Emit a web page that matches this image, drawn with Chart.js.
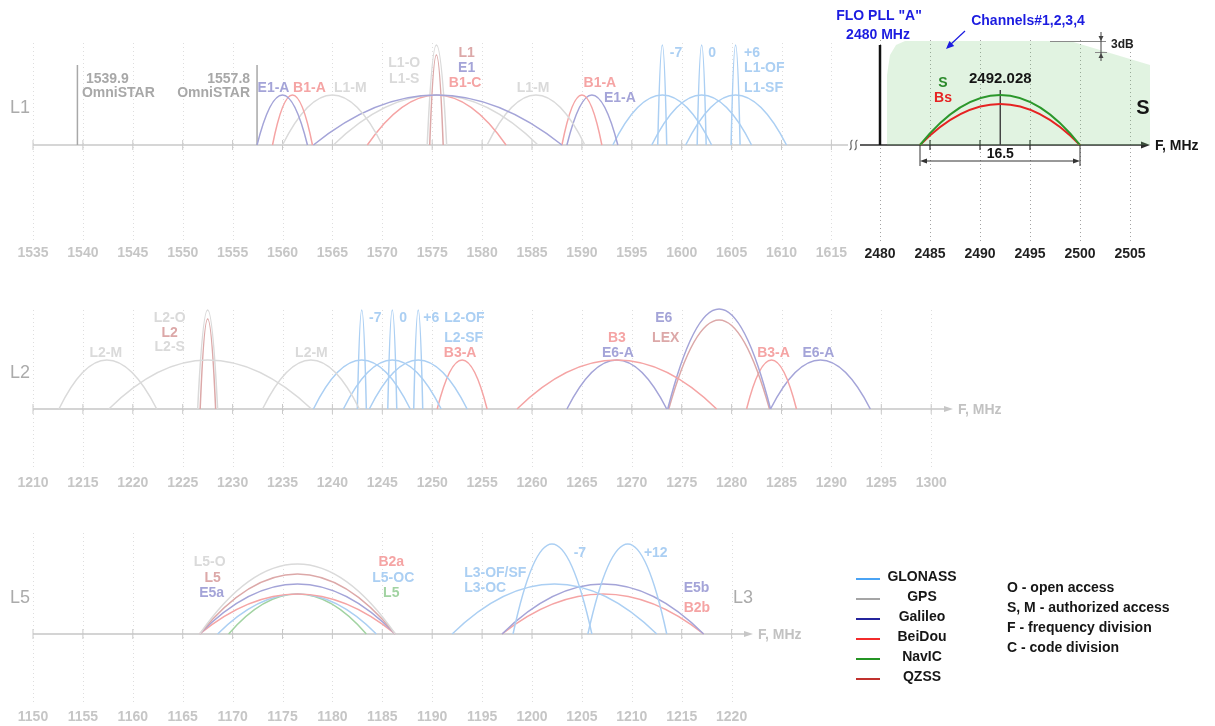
<!DOCTYPE html>
<html>
<head>
<meta charset="utf-8">
<title>GNSS frequency bands</title>
<script src="https://cdn.jsdelivr.net/npm/chart.js@4.4.1/dist/chart.umd.min.js"></script>
<style>
  html, body { margin: 0; padding: 0; background: #fff; }
  canvas { display: block; }
</style>
</head>
<body>
<canvas id="bands" width="1215" height="726"></canvas>
<script>
// tick labels of each frequency axis (MHz)
const l1Ticks = [1535, 1540, 1545, 1550, 1555, 1560, 1565, 1570, 1575, 1580, 1585, 1590, 1595, 1600, 1605, 1610, 1615];
const sTicks = [2480, 2485, 2490, 2495, 2500, 2505];
const l2Ticks = [1210, 1215, 1220, 1225, 1230, 1235, 1240, 1245, 1250, 1255, 1260, 1265, 1270, 1275, 1280, 1285, 1290, 1295, 1300];
const l5Ticks = [1150, 1155, 1160, 1165, 1170, 1175, 1180, 1185, 1190, 1195, 1200, 1205, 1210, 1215, 1220];

const systems = ["GLONASS", "GPS", "Galileo", "BeiDou", "NavIC", "QZSS"];

// spectrum lobes: [system, start MHz, peak MHz, end MHz, relative level]
const l1Lobes = [
  ["Galileo", 1557.45, 1560.0, 1562.5, 50],
  ["BeiDou", 1559.0, 1561.0, 1563.0, 50],
  ["GPS", 1560.0, 1565.0, 1570.0, 50],
  ["Galileo", 1563.1, 1575.42, 1588.0, 50],
  ["GPS", 1565.1, 1575.42, 1585.6, 50],
  ["BeiDou", 1568.5, 1575.42, 1582.4, 50],
  ["GPS", 1574.5, 1575.42, 1576.45, 100],
  ["QZSS", 1574.75, 1575.42, 1576.1, 90],
  ["GPS", 1580.5, 1585.4, 1590.3, 50],
  ["BeiDou", 1588.0, 1590.0, 1592.0, 50],
  ["Galileo", 1588.5, 1591.0, 1593.6, 50],
  ["GLONASS", 1593.1, 1598.06, 1603.0, 50],
  ["GLONASS", 1597.0, 1602.0, 1607.0, 50],
  ["GLONASS", 1600.4, 1605.4, 1610.5, 50],
  ["GLONASS", 1597.6, 1598.06, 1598.5, 100],
  ["GLONASS", 1601.55, 1602.0, 1602.45, 100],
  ["GLONASS", 1604.95, 1605.4, 1605.85, 100],
];

const l2Lobes = [
  ["GPS", 1212.6, 1217.4, 1222.4, 49],
  ["GPS", 1217.6, 1227.5, 1237.9, 49],
  ["GPS", 1233.0, 1237.85, 1242.7, 49],
  ["GPS", 1226.5, 1227.5, 1228.5, 99],
  ["QZSS", 1226.75, 1227.5, 1228.3, 90],
  ["GLONASS", 1238.1, 1242.94, 1247.8, 49],
  ["GLONASS", 1241.1, 1246.0, 1250.9, 49],
  ["GLONASS", 1243.7, 1248.6, 1253.5, 49],
  ["GLONASS", 1242.5, 1242.94, 1243.4, 99],
  ["GLONASS", 1245.55, 1246.0, 1246.45, 99],
  ["GLONASS", 1248.15, 1248.6, 1249.05, 99],
  ["BeiDou", 1250.5, 1253.0, 1255.5, 49],
  ["BeiDou", 1258.5, 1268.5, 1278.5, 49],
  ["Galileo", 1263.5, 1268.5, 1273.5, 49],
  ["Galileo", 1273.6, 1278.75, 1283.9, 100],
  ["QZSS", 1273.7, 1278.75, 1283.8, 89],
  ["BeiDou", 1281.5, 1284.0, 1286.5, 49],
  ["Galileo", 1283.9, 1288.9, 1293.9, 49],
];

const l5Lobes = [
  ["GPS", 1166.7, 1176.5, 1186.3, 70],
  ["QZSS", 1166.7, 1176.5, 1186.3, 60],
  ["Galileo", 1166.7, 1176.5, 1186.3, 50],
  ["BeiDou", 1166.7, 1176.5, 1186.3, 40],
  ["GLONASS", 1168.5, 1176.5, 1184.4, 40],
  ["NavIC", 1169.6, 1176.5, 1183.4, 40],
  ["GLONASS", 1192.0, 1202.25, 1212.5, 50],
  ["GLONASS", 1198.1, 1202.0, 1206.0, 90],
  ["GLONASS", 1205.6, 1209.6, 1213.5, 90],
  ["Galileo", 1197.0, 1207.14, 1217.2, 50],
  ["BeiDou", 1197.0, 1207.14, 1217.2, 40],
];

// OmniSTAR carriers as drawn, and their marker level
const omniStarFreq = [1539.45, 1557.45];
const omniStarLevel = 80;

// S band inset
const sLobe = ["NavIC", 2484, 2492.028, 2500, 50];
const bsLobe = ["BeiDou", 2484, 2492.028, 2500, 41];
const sBandFreq = [2480.65, 2480.7, 2481.0, 2481.6, 2482.5, 2499.0, 2507.0, 2507.0];
const sBandLevel = [0, 70, 90, 100, 104, 104, 80, 0];
const floFreq = 2480;
const floLevel = 100;
const centerFreq = 2492.028;
const centerLevel = 55;

// signal labels: [text, system, MHz, level, align]
const l1Labels = [
  ["1539.9", "Omni", 1540.3, 66, "left"],
  ["OmniSTAR", "Omni", 1539.9, 52, "left"],
  ["1557.8", "Omni", 1556.75, 66, "right"],
  ["OmniSTAR", "Omni", 1556.75, 52, "right"],
  ["E1-A", "Galileo", 1559.1, 57, "center"],
  ["B1-A", "BeiDou", 1562.7, 57, "center"],
  ["L1-M", "GPS", 1566.8, 57, "center"],
  ["L1-O", "GPS", 1572.2, 82, "center"],
  ["L1-S", "GPS", 1572.2, 66, "center"],
  ["L1", "QZSS", 1578.45, 92, "center"],
  ["E1", "Galileo", 1578.45, 77, "center"],
  ["B1-C", "BeiDou", 1578.3, 62, "center"],
  ["L1-M", "GPS", 1585.1, 57, "center"],
  ["B1-A", "BeiDou", 1591.8, 62, "center"],
  ["E1-A", "Galileo", 1593.8, 47, "center"],
  ["-7", "GLONASS", 1598.8, 92, "left"],
  ["0", "GLONASS", 1602.65, 92, "left"],
  ["+6", "GLONASS", 1606.25, 92, "left"],
  ["L1-OF", "GLONASS", 1606.25, 77, "left"],
  ["L1-SF", "GLONASS", 1606.25, 57, "left"],
];

const l2Labels = [
  ["L2-M", "GPS", 1217.3, 56, "center"],
  ["L2-O", "GPS", 1223.7, 91, "center"],
  ["L2", "QZSS", 1223.7, 76, "center"],
  ["L2-S", "GPS", 1223.7, 62, "center"],
  ["L2-M", "GPS", 1237.9, 56, "center"],
  ["-7", "GLONASS", 1244.3, 91, "center"],
  ["0", "GLONASS", 1247.1, 91, "center"],
  ["+6", "GLONASS", 1249.9, 91, "center"],
  ["L2-OF", "GLONASS", 1251.2, 91, "left"],
  ["L2-SF", "GLONASS", 1251.2, 71, "left"],
  ["B3-A", "BeiDou", 1252.8, 56, "center"],
  ["B3", "BeiDou", 1268.5, 71, "center"],
  ["E6-A", "Galileo", 1268.6, 56, "center"],
  ["E6", "Galileo", 1273.2, 91, "center"],
  ["LEX", "QZSS", 1273.4, 71, "center"],
  ["B3-A", "BeiDou", 1284.2, 56, "center"],
  ["E6-A", "Galileo", 1288.7, 56, "center"],
];

const l5Labels = [
  ["L5-O", "GPS", 1167.7, 72, "center"],
  ["L5", "QZSS", 1168.0, 56, "center"],
  ["E5a", "Galileo", 1167.9, 41, "center"],
  ["B2a", "BeiDou", 1185.9, 72, "center"],
  ["L5-OC", "GLONASS", 1186.1, 56, "center"],
  ["L5", "NavIC", 1185.9, 41, "center"],
  ["-7", "GLONASS", 1204.8, 81, "center"],
  ["+12", "GLONASS", 1212.4, 81, "center"],
  ["L3-OF/SF", "GLONASS", 1193.2, 61, "left"],
  ["L3-OC", "GLONASS", 1193.2, 46, "left"],
  ["E5b", "Galileo", 1215.2, 46, "left"],
  ["B2b", "BeiDou", 1215.2, 26, "left"],
];

const legendNotes = ["O - open access", "S, M - authorized access", "F - frequency division", "C - code division"];

// ---- styles and geometry ----
const W = 1215, H = 726;
const FONT = '"Liberation Sans", Arial, Helvetica, sans-serif';

const strong = { GLONASS: "#4aa3f4", GPS: "#a5a5a5", Galileo: "#24249c", BeiDou: "#f22b2b", NavIC: "#249424", QZSS: "#c0312e" };
const faded = { GLONASS: "#abcff3", GPS: "#dadada", Galileo: "#a4a4d8", BeiDou: "#f5a4a4", NavIC: "#a2d3a2", QZSS: "#dca8a8", Omni: "#a8a8a8" };

// pixel placement of each panel: frequency f0 sits at px0, ppm pixels per MHz, axis line at axisY
const panels = {
  L1: { f0: 1535, px0: 33, ppm: 9.98, axisY: 145, gridTop: 102, gridBottom: -95, grid: "#dedede", tickY: 253, tickColor: "#c6c6c6" },
  S: { f0: 2480, px0: 880, ppm: 10, axisY: 145, gridTop: 105, gridBottom: -97, grid: "#a2a2a2", tickY: 254, tickColor: "#1f1f1f" },
  L2: { f0: 1210, px0: 33, ppm: 9.98, axisY: 409, gridTop: 99, gridBottom: -61, grid: "#dedede", tickY: 483, tickColor: "#c6c6c6" },
  L5: { f0: 1150, px0: 33, ppm: 9.98, axisY: 634, gridTop: 101, gridBottom: -69, grid: "#dedede", tickY: 717, tickColor: "#c6c6c6" },
};

const scales = {};
Object.entries(panels).forEach(([key, p]) => {
  scales["x" + key] = {
    type: "linear", axis: "x", position: "bottom", display: false,
    min: p.f0 - p.px0 / p.ppm, max: p.f0 + (W - p.px0) / p.ppm,
  };
  scales["y" + key] = {
    type: "linear", axis: "y", position: "left", display: false,
    min: p.axisY - H, max: p.axisY,
  };
});

function lobeSet(panel, lobe, color, width) {
  const [sys, a, peak, b, level] = lobe;
  return {
    label: sys, xAxisID: "x" + panel, yAxisID: "y" + panel,
    data: [{ x: a, y: 0 }, { x: peak, y: level }, { x: b, y: 0 }],
    borderColor: color, borderWidth: width, pointRadius: 0, tension: 0.4, fill: false, lobe: true,
  };
}

function lineSet(panel, freq, level, color, width) {
  return {
    xAxisID: "x" + panel, yAxisID: "y" + panel,
    data: [{ x: freq, y: 0 }, { x: freq, y: level }],
    borderColor: color, borderWidth: width, pointRadius: 0, tension: 0, fill: false,
  };
}

const datasets = [];
l1Lobes.forEach((l) => datasets.push(lobeSet("L1", l, faded[l[0]], 1.5)));
l2Lobes.forEach((l) => datasets.push(lobeSet("L2", l, faded[l[0]], 1.5)));
l5Lobes.forEach((l) => datasets.push(lobeSet("L5", l, faded[l[0]], 1.5)));
omniStarFreq.forEach((f) => datasets.push(lineSet("L1", f, omniStarLevel, faded.Omni, 1.5)));
datasets.push(lobeSet("S", sLobe.slice(0), "#2b972b", 2));
datasets.push(lobeSet("S", bsLobe.slice(0), "#e62222", 2));
datasets.push(lineSet("S", floFreq, floLevel, "#111", 2.5));
datasets.push(lineSet("S", centerFreq, centerLevel, "#444", 1.5));
datasets.push({
  xAxisID: "xS", yAxisID: "yS", order: 10,
  data: sBandFreq.map((f, i) => ({ x: f, y: sBandLevel[i] })),
  borderWidth: 0, pointRadius: 0, tension: 0,
  fill: "origin", backgroundColor: "rgba(120, 200, 120, 0.22)",
});

// ---- drawing helpers ----
function text(ctx, str, x, y, font, color, align) {
  ctx.font = font;
  ctx.fillStyle = color;
  ctx.textAlign = align || "center";
  ctx.textBaseline = "middle";
  ctx.fillText(str, x, y);
}

function seg(ctx, x0, y0, x1, y1, color, width) {
  ctx.strokeStyle = color;
  ctx.lineWidth = width;
  ctx.beginPath();
  ctx.moveTo(x0, y0);
  ctx.lineTo(x1, y1);
  ctx.stroke();
}

function arrowHead(ctx, x, y, ang, len, half, color) {
  ctx.save();
  ctx.translate(x, y);
  ctx.rotate(ang);
  ctx.beginPath();
  ctx.moveTo(0, 0);
  ctx.lineTo(-len, -half);
  ctx.lineTo(-len, half);
  ctx.closePath();
  ctx.fillStyle = color;
  ctx.fill();
  ctx.restore();
}

// half-parabola control points for every lobe (start, peak, end)
function shapeLobes(chart) {
  chart.data.datasets.forEach((ds, i) => {
    if (!ds.lobe) return;
    const meta = chart.getDatasetMeta(i);
    const [a, b, c] = meta.data;
    a.cp2x = a.x + (b.x - a.x) / 3; a.cp2y = a.y + 2 * (b.y - a.y) / 3;
    b.cp1x = b.x - (b.x - a.x) / 3; b.cp1y = b.y;
    b.cp2x = b.x + (c.x - b.x) / 3; b.cp2y = b.y;
    c.cp1x = c.x - (c.x - b.x) / 3; c.cp1y = c.y + 2 * (b.y - c.y) / 3;
    meta.dataset._pointsUpdated = true;
    meta.dataset._path = undefined;
  });
}

const decor = {
  id: "decor",
  beforeDatasetsDraw(chart) {
    const ctx = chart.ctx;
    const X = (k, f) => chart.scales["x" + k].getPixelForValue(f);
    const Y = (k, v) => chart.scales["y" + k].getPixelForValue(v);
    ctx.save();

    // dotted grid
    const tickSets = { L1: l1Ticks, S: sTicks, L2: l2Ticks, L5: l5Ticks };
    Object.entries(tickSets).forEach(([k, ticks]) => {
      const p = panels[k];
      ctx.setLineDash([1, 3]);
      ticks.forEach((t) => {
        const x = Math.round(X(k, t)) + 0.5;
        seg(ctx, x, Y(k, p.gridTop), x, Y(k, p.gridBottom), p.grid, 1);
      });
      ctx.setLineDash([]);
    });

    // L1 axis up to the break
    const y1 = panels.L1.axisY;
    seg(ctx, X("L1", 1535), y1, 848, y1, "#c9c9c9", 1.5);
    l1Ticks.forEach((t) => seg(ctx, X("L1", t), y1 - 5, X("L1", t), y1 + 5, "#c9c9c9", 1));

    // axis break
    ctx.strokeStyle = "#666";
    ctx.lineWidth = 1.2;
    ctx.beginPath();
    [851, 856].forEach((bx) => {
      ctx.moveTo(bx - 1.5, y1 + 5);
      ctx.bezierCurveTo(bx + 3, y1 + 3, bx - 3, y1 - 3, bx + 1.5, y1 - 5);
    });
    ctx.stroke();

    // S band axis
    seg(ctx, 860, y1, 1143, y1, "#2b2b2b", 1.5);
    arrowHead(ctx, 1150, y1, 0, 9, 3.5, "#2b2b2b");
    [2485, 2490, 2495].forEach((t) => seg(ctx, X("S", t), y1 - 5, X("S", t), y1 + 5, "#2b2b2b", 1.2));

    // L2 and L5 axes
    [["L2", l2Ticks, 946], ["L5", l5Ticks, 746]].forEach(([k, ticks, end]) => {
      const ay = panels[k].axisY;
      seg(ctx, X(k, ticks[0]), ay, end, ay, "#c6c6c6", 1.5);
      arrowHead(ctx, end + 7, ay, 0, 9, 3, "#c6c6c6");
      ticks.forEach((t) => seg(ctx, X(k, t), ay - 5, X(k, t), ay + 5, "#c9c9c9", 1));
    });

    // tick labels
    Object.entries(tickSets).forEach(([k, ticks]) => {
      const p = panels[k];
      ticks.forEach((t) => text(ctx, String(t), X(k, t), p.tickY, "bold 14px " + FONT, p.tickColor));
    });

    ctx.restore();
    shapeLobes(chart);
  },

  afterDatasetsDraw(chart) {
    const ctx = chart.ctx;
    const X = (k, f) => chart.scales["x" + k].getPixelForValue(f);
    const Y = (k, v) => chart.scales["y" + k].getPixelForValue(v);
    ctx.save();

    // signal labels
    [["L1", l1Labels], ["L2", l2Labels], ["L5", l5Labels]].forEach(([k, labels]) => {
      labels.forEach(([str, sys, f, lvl, align]) => {
        text(ctx, str, X(k, f), Y(k, lvl), "bold 14px " + FONT, faded[sys], align);
      });
    });

    // band names
    text(ctx, "L1", 20, 108, "18px " + FONT, "#ababab");
    text(ctx, "L2", 20, 373, "18px " + FONT, "#ababab");
    text(ctx, "L5", 20, 598, "18px " + FONT, "#ababab");
    text(ctx, "L3", 743, 598, "18px " + FONT, "#ababab");
    text(ctx, "F, MHz", 958, panels.L2.axisY + 1, "bold 14px " + FONT, "#c2c2c2", "left");
    text(ctx, "F, MHz", 758, panels.L5.axisY + 1, "bold 14px " + FONT, "#c2c2c2", "left");

    // S band annotations
    const blue = "#1c1ce0";
    text(ctx, 'FLO PLL "A"', 879, 16, "bold 14px " + FONT, blue);
    text(ctx, "2480 MHz", 878, 35, "bold 14px " + FONT, blue);
    text(ctx, "Channels#1,2,3,4", 1028, 21, "bold 14px " + FONT, blue);
    seg(ctx, 965, 31, 950, 45, blue, 1.2);
    arrowHead(ctx, 946, 49, Math.atan2(18, -19), 8, 3.5, blue);

    // 3 dB step
    seg(ctx, 1050, 41.5, 1106, 41.5, "#8a8a8a", 1);
    seg(ctx, 1095, 52.5, 1107, 52.5, "#8a8a8a", 1);
    seg(ctx, 1101, 32, 1101, 61, "#444", 1);
    arrowHead(ctx, 1101, 41, Math.PI / 2, 5, 2.5, "#444");
    arrowHead(ctx, 1101, 53, -Math.PI / 2, 5, 2.5, "#444");
    text(ctx, "3dB", 1111, 45, "bold 12px " + FONT, "#222", "left");

    text(ctx, "2492.028", X("S", centerFreq), 79, "bold 15px " + FONT, "#151515");
    text(ctx, "S", 943, 83, "bold 14px " + FONT, "#2b8a2b");
    text(ctx, "Bs", 943, 98, "bold 14px " + FONT, "#e62222");
    text(ctx, "S", 1143, 108, "bold 20px " + FONT, "#151515");
    text(ctx, "F, MHz", 1155, y1Label(), "bold 14px " + FONT, "#151515", "left");

    // 16.5 MHz width marker
    const xa = X("S", sLobe[1]), xb = X("S", sLobe[3]);
    const ay = panels.S.axisY;
    seg(ctx, xa, ay, xa, ay + 21, "#333", 1);
    seg(ctx, xb, ay, xb, ay + 21, "#333", 1);
    seg(ctx, xa + 4, ay + 16, xb - 4, ay + 16, "#333", 1);
    arrowHead(ctx, xa, ay + 16, Math.PI, 7, 2.5, "#333");
    arrowHead(ctx, xb, ay + 16, 0, 7, 2.5, "#333");
    text(ctx, "16.5", X("S", centerFreq), 154, "bold 14px " + FONT, "#151515");

    // legend
    systems.forEach((sys, i) => {
      const ly = 579 + i * 20;
      seg(ctx, 856, ly, 880, ly, strong[sys], 2);
      text(ctx, sys, 922, ly - 2, "bold 14px " + FONT, "#161616");
    });
    legendNotes.forEach((note, i) => {
      text(ctx, note, 1007, 588 + i * 20, "bold 14px " + FONT, "#161616", "left");
    });

    ctx.restore();
  },
};

function y1Label() {
  return panels.S.axisY + 1;
}

new Chart(document.getElementById("bands"), {
  type: "line",
  data: { datasets },
  options: {
    responsive: false,
    devicePixelRatio: 1,
    animation: false,
    events: [],
    layout: { padding: 0 },
    scales,
    plugins: {
      legend: { display: false },
      tooltip: { enabled: false },
      title: { display: false },
    },
  },
  plugins: [decor],
});
</script>
</body>
</html>
